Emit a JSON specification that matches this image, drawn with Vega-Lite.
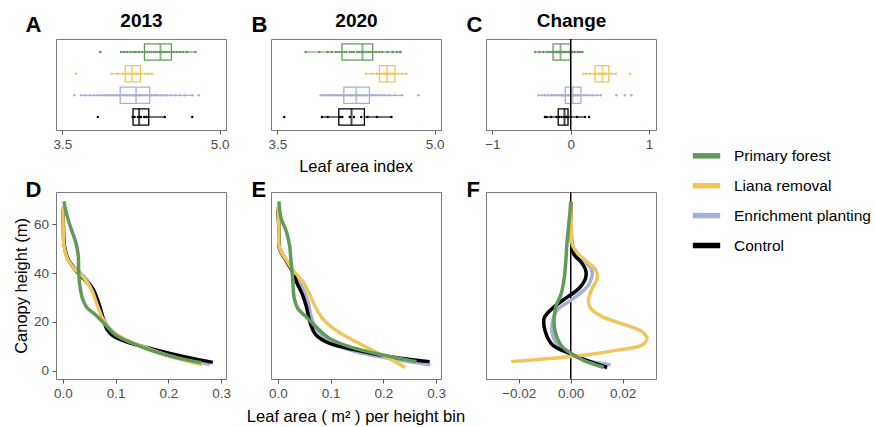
{
"$schema": "https://vega.github.io/schema/vega-lite/v6.json",
"padding": {"left": 12, "top": 10, "right": 3, "bottom": 3},
"config": {
 "font": "Liberation Sans",
 "view": {"stroke": "#7a7a7a", "strokeWidth": 1},
 "axis": {"grid": false, "domain": false, "labelFont": "Liberation Sans", "labelFontSize": 13.5, "labelColor": "#4d4d4d", "tickColor": "#555555", "tickSize": 4, "labelPadding": 3.5, "titleFont": "Liberation Sans", "titleFontSize": 16.5, "titleFontWeight": "normal", "titleColor": "black"},
 "legend": {"labelFont": "Liberation Sans", "symbolSize": 750, "symbolStrokeWidth": 5.5, "labelFontSize": 15.5, "labelColor": "black", "labelOffset": 11, "rowPadding": 1.9, "symbolOpacity": 1},
 "title": {"font": "Liberation Sans", "fontWeight": "normal", "fontSize": 16.5, "color": "black"}
},
"datasets": {
 "box": [
  {"p":"A","g":"Primary forest","lo":4.062,"q1":4.283,"med":4.436,"q3":4.54,"hi":4.77},
  {"p":"A","g":"Liana removal","lo":3.972,"q1":4.10,"med":4.164,"q3":4.244,"hi":4.355},
  {"p":"A","g":"Enrichment planting","lo":3.679,"q1":4.052,"med":4.203,"q3":4.333,"hi":4.738},
  {"p":"A","g":"Control","lo":4.174,"q1":4.174,"med":4.232,"q3":4.324,"hi":4.477},
  {"p":"B","g":"Primary forest","lo":3.769,"q1":4.116,"med":4.312,"q3":4.409,"hi":4.675},
  {"p":"B","g":"Liana removal","lo":4.345,"q1":4.473,"med":4.545,"q3":4.621,"hi":4.73},
  {"p":"B","g":"Enrichment planting","lo":3.914,"q1":4.134,"med":4.252,"q3":4.378,"hi":4.69},
  {"p":"B","g":"Control","lo":3.926,"q1":4.086,"med":4.207,"q3":4.33,"hi":4.588},
  {"p":"C","g":"Primary forest","lo":-0.456,"q1":-0.226,"med":-0.13,"q3":-0.005,"hi":0.15},
  {"p":"C","g":"Liana removal","lo":0.161,"q1":0.31,"med":0.404,"q3":0.485,"hi":0.574},
  {"p":"C","g":"Enrichment planting","lo":-0.414,"q1":-0.07,"med":0.021,"q3":0.13,"hi":0.383},
  {"p":"C","g":"Control","lo":-0.328,"q1":-0.16,"med":-0.08,"q3":-0.035,"hi":0.183}
 ],
 "pts": [
  {"p":"A","g":"Primary forest","v":3.86},{"p":"A","g":"Primary forest","v":3.862},{"p":"A","g":"Primary forest","v":4.06},{"p":"A","g":"Primary forest","v":4.09},{"p":"A","g":"Primary forest","v":4.12},{"p":"A","g":"Primary forest","v":4.15},{"p":"A","g":"Primary forest","v":4.18},{"p":"A","g":"Primary forest","v":4.2},{"p":"A","g":"Primary forest","v":4.23},{"p":"A","g":"Primary forest","v":4.26},{"p":"A","g":"Primary forest","v":4.29},{"p":"A","g":"Primary forest","v":4.31},{"p":"A","g":"Primary forest","v":4.33},{"p":"A","g":"Primary forest","v":4.35},{"p":"A","g":"Primary forest","v":4.37},{"p":"A","g":"Primary forest","v":4.39},{"p":"A","g":"Primary forest","v":4.41},{"p":"A","g":"Primary forest","v":4.43},{"p":"A","g":"Primary forest","v":4.44},{"p":"A","g":"Primary forest","v":4.46},{"p":"A","g":"Primary forest","v":4.48},{"p":"A","g":"Primary forest","v":4.5},{"p":"A","g":"Primary forest","v":4.52},{"p":"A","g":"Primary forest","v":4.54},{"p":"A","g":"Primary forest","v":4.56},{"p":"A","g":"Primary forest","v":4.59},{"p":"A","g":"Primary forest","v":4.62},{"p":"A","g":"Primary forest","v":4.65},{"p":"A","g":"Primary forest","v":4.69},{"p":"A","g":"Primary forest","v":4.77},
  {"p":"A","g":"Liana removal","v":3.63},{"p":"A","g":"Liana removal","v":3.97},{"p":"A","g":"Liana removal","v":4.03},{"p":"A","g":"Liana removal","v":4.08},{"p":"A","g":"Liana removal","v":4.11},{"p":"A","g":"Liana removal","v":4.13},{"p":"A","g":"Liana removal","v":4.15},{"p":"A","g":"Liana removal","v":4.16},{"p":"A","g":"Liana removal","v":4.17},{"p":"A","g":"Liana removal","v":4.19},{"p":"A","g":"Liana removal","v":4.21},{"p":"A","g":"Liana removal","v":4.23},{"p":"A","g":"Liana removal","v":4.25},{"p":"A","g":"Liana removal","v":4.29},{"p":"A","g":"Liana removal","v":4.32},{"p":"A","g":"Liana removal","v":4.355},
  {"p":"A","g":"Enrichment planting","v":3.615},{"p":"A","g":"Enrichment planting","v":3.68},{"p":"A","g":"Enrichment planting","v":3.72},{"p":"A","g":"Enrichment planting","v":3.76},{"p":"A","g":"Enrichment planting","v":3.8},{"p":"A","g":"Enrichment planting","v":3.84},{"p":"A","g":"Enrichment planting","v":3.87},{"p":"A","g":"Enrichment planting","v":3.9},{"p":"A","g":"Enrichment planting","v":3.93},{"p":"A","g":"Enrichment planting","v":3.95},{"p":"A","g":"Enrichment planting","v":3.97},{"p":"A","g":"Enrichment planting","v":3.99},{"p":"A","g":"Enrichment planting","v":4.01},{"p":"A","g":"Enrichment planting","v":4.03},{"p":"A","g":"Enrichment planting","v":4.05},{"p":"A","g":"Enrichment planting","v":4.07},{"p":"A","g":"Enrichment planting","v":4.09},{"p":"A","g":"Enrichment planting","v":4.11},{"p":"A","g":"Enrichment planting","v":4.12},{"p":"A","g":"Enrichment planting","v":4.14},{"p":"A","g":"Enrichment planting","v":4.15},{"p":"A","g":"Enrichment planting","v":4.17},{"p":"A","g":"Enrichment planting","v":4.18},{"p":"A","g":"Enrichment planting","v":4.19},{"p":"A","g":"Enrichment planting","v":4.2},{"p":"A","g":"Enrichment planting","v":4.21},{"p":"A","g":"Enrichment planting","v":4.23},{"p":"A","g":"Enrichment planting","v":4.24},{"p":"A","g":"Enrichment planting","v":4.26},{"p":"A","g":"Enrichment planting","v":4.28},{"p":"A","g":"Enrichment planting","v":4.3},{"p":"A","g":"Enrichment planting","v":4.32},{"p":"A","g":"Enrichment planting","v":4.33},{"p":"A","g":"Enrichment planting","v":4.35},{"p":"A","g":"Enrichment planting","v":4.37},{"p":"A","g":"Enrichment planting","v":4.39},{"p":"A","g":"Enrichment planting","v":4.41},{"p":"A","g":"Enrichment planting","v":4.44},{"p":"A","g":"Enrichment planting","v":4.47},{"p":"A","g":"Enrichment planting","v":4.5},{"p":"A","g":"Enrichment planting","v":4.54},{"p":"A","g":"Enrichment planting","v":4.58},{"p":"A","g":"Enrichment planting","v":4.62},{"p":"A","g":"Enrichment planting","v":4.67},{"p":"A","g":"Enrichment planting","v":4.74},{"p":"A","g":"Enrichment planting","v":4.8},
  {"p":"A","g":"Control","v":3.838},{"p":"A","g":"Control","v":4.17},{"p":"A","g":"Control","v":4.19},{"p":"A","g":"Control","v":4.22},{"p":"A","g":"Control","v":4.235},{"p":"A","g":"Control","v":4.25},{"p":"A","g":"Control","v":4.28},{"p":"A","g":"Control","v":4.3},{"p":"A","g":"Control","v":4.32},{"p":"A","g":"Control","v":4.477},{"p":"A","g":"Control","v":4.738},
  {"p":"B","g":"Primary forest","v":3.77},{"p":"B","g":"Primary forest","v":3.9},{"p":"B","g":"Primary forest","v":3.98},{"p":"B","g":"Primary forest","v":4.02},{"p":"B","g":"Primary forest","v":4.06},{"p":"B","g":"Primary forest","v":4.09},{"p":"B","g":"Primary forest","v":4.12},{"p":"B","g":"Primary forest","v":4.14},{"p":"B","g":"Primary forest","v":4.16},{"p":"B","g":"Primary forest","v":4.19},{"p":"B","g":"Primary forest","v":4.21},{"p":"B","g":"Primary forest","v":4.23},{"p":"B","g":"Primary forest","v":4.26},{"p":"B","g":"Primary forest","v":4.28},{"p":"B","g":"Primary forest","v":4.3},{"p":"B","g":"Primary forest","v":4.31},{"p":"B","g":"Primary forest","v":4.33},{"p":"B","g":"Primary forest","v":4.35},{"p":"B","g":"Primary forest","v":4.37},{"p":"B","g":"Primary forest","v":4.39},{"p":"B","g":"Primary forest","v":4.41},{"p":"B","g":"Primary forest","v":4.44},{"p":"B","g":"Primary forest","v":4.47},{"p":"B","g":"Primary forest","v":4.5},{"p":"B","g":"Primary forest","v":4.55},{"p":"B","g":"Primary forest","v":4.6},{"p":"B","g":"Primary forest","v":4.64},{"p":"B","g":"Primary forest","v":4.67},{"p":"B","g":"Primary forest","v":4.675},
  {"p":"B","g":"Liana removal","v":4.345},{"p":"B","g":"Liana removal","v":4.4},{"p":"B","g":"Liana removal","v":4.45},{"p":"B","g":"Liana removal","v":4.48},{"p":"B","g":"Liana removal","v":4.5},{"p":"B","g":"Liana removal","v":4.52},{"p":"B","g":"Liana removal","v":4.53},{"p":"B","g":"Liana removal","v":4.55},{"p":"B","g":"Liana removal","v":4.56},{"p":"B","g":"Liana removal","v":4.58},{"p":"B","g":"Liana removal","v":4.6},{"p":"B","g":"Liana removal","v":4.62},{"p":"B","g":"Liana removal","v":4.65},{"p":"B","g":"Liana removal","v":4.69},{"p":"B","g":"Liana removal","v":4.73},
  {"p":"B","g":"Enrichment planting","v":3.914},{"p":"B","g":"Enrichment planting","v":3.94},{"p":"B","g":"Enrichment planting","v":3.97},{"p":"B","g":"Enrichment planting","v":3.99},{"p":"B","g":"Enrichment planting","v":4.01},{"p":"B","g":"Enrichment planting","v":4.03},{"p":"B","g":"Enrichment planting","v":4.05},{"p":"B","g":"Enrichment planting","v":4.07},{"p":"B","g":"Enrichment planting","v":4.09},{"p":"B","g":"Enrichment planting","v":4.1},{"p":"B","g":"Enrichment planting","v":4.12},{"p":"B","g":"Enrichment planting","v":4.13},{"p":"B","g":"Enrichment planting","v":4.15},{"p":"B","g":"Enrichment planting","v":4.16},{"p":"B","g":"Enrichment planting","v":4.17},{"p":"B","g":"Enrichment planting","v":4.19},{"p":"B","g":"Enrichment planting","v":4.2},{"p":"B","g":"Enrichment planting","v":4.21},{"p":"B","g":"Enrichment planting","v":4.22},{"p":"B","g":"Enrichment planting","v":4.24},{"p":"B","g":"Enrichment planting","v":4.25},{"p":"B","g":"Enrichment planting","v":4.26},{"p":"B","g":"Enrichment planting","v":4.27},{"p":"B","g":"Enrichment planting","v":4.29},{"p":"B","g":"Enrichment planting","v":4.3},{"p":"B","g":"Enrichment planting","v":4.31},{"p":"B","g":"Enrichment planting","v":4.33},{"p":"B","g":"Enrichment planting","v":4.34},{"p":"B","g":"Enrichment planting","v":4.36},{"p":"B","g":"Enrichment planting","v":4.38},{"p":"B","g":"Enrichment planting","v":4.4},{"p":"B","g":"Enrichment planting","v":4.42},{"p":"B","g":"Enrichment planting","v":4.44},{"p":"B","g":"Enrichment planting","v":4.47},{"p":"B","g":"Enrichment planting","v":4.5},{"p":"B","g":"Enrichment planting","v":4.53},{"p":"B","g":"Enrichment planting","v":4.57},{"p":"B","g":"Enrichment planting","v":4.62},{"p":"B","g":"Enrichment planting","v":4.69},{"p":"B","g":"Enrichment planting","v":4.845},
  {"p":"B","g":"Control","v":3.566},{"p":"B","g":"Control","v":3.926},{"p":"B","g":"Control","v":3.98},{"p":"B","g":"Control","v":4.1},{"p":"B","g":"Control","v":4.12},{"p":"B","g":"Control","v":4.19},{"p":"B","g":"Control","v":4.23},{"p":"B","g":"Control","v":4.3},{"p":"B","g":"Control","v":4.36},{"p":"B","g":"Control","v":4.45},{"p":"B","g":"Control","v":4.588},
  {"p":"C","g":"Primary forest","v":-0.456},{"p":"C","g":"Primary forest","v":-0.4},{"p":"C","g":"Primary forest","v":-0.35},{"p":"C","g":"Primary forest","v":-0.3},{"p":"C","g":"Primary forest","v":-0.27},{"p":"C","g":"Primary forest","v":-0.24},{"p":"C","g":"Primary forest","v":-0.22},{"p":"C","g":"Primary forest","v":-0.2},{"p":"C","g":"Primary forest","v":-0.18},{"p":"C","g":"Primary forest","v":-0.16},{"p":"C","g":"Primary forest","v":-0.15},{"p":"C","g":"Primary forest","v":-0.14},{"p":"C","g":"Primary forest","v":-0.13},{"p":"C","g":"Primary forest","v":-0.11},{"p":"C","g":"Primary forest","v":-0.09},{"p":"C","g":"Primary forest","v":-0.07},{"p":"C","g":"Primary forest","v":-0.05},{"p":"C","g":"Primary forest","v":-0.03},{"p":"C","g":"Primary forest","v":-0.01},{"p":"C","g":"Primary forest","v":0.02},{"p":"C","g":"Primary forest","v":0.05},{"p":"C","g":"Primary forest","v":0.09},{"p":"C","g":"Primary forest","v":0.12},{"p":"C","g":"Primary forest","v":0.15},
  {"p":"C","g":"Liana removal","v":0.161},{"p":"C","g":"Liana removal","v":0.2},{"p":"C","g":"Liana removal","v":0.25},{"p":"C","g":"Liana removal","v":0.3},{"p":"C","g":"Liana removal","v":0.33},{"p":"C","g":"Liana removal","v":0.36},{"p":"C","g":"Liana removal","v":0.38},{"p":"C","g":"Liana removal","v":0.4},{"p":"C","g":"Liana removal","v":0.41},{"p":"C","g":"Liana removal","v":0.43},{"p":"C","g":"Liana removal","v":0.45},{"p":"C","g":"Liana removal","v":0.48},{"p":"C","g":"Liana removal","v":0.52},{"p":"C","g":"Liana removal","v":0.574},{"p":"C","g":"Liana removal","v":0.757},
  {"p":"C","g":"Enrichment planting","v":-0.414},{"p":"C","g":"Enrichment planting","v":-0.37},{"p":"C","g":"Enrichment planting","v":-0.33},{"p":"C","g":"Enrichment planting","v":-0.29},{"p":"C","g":"Enrichment planting","v":-0.25},{"p":"C","g":"Enrichment planting","v":-0.22},{"p":"C","g":"Enrichment planting","v":-0.19},{"p":"C","g":"Enrichment planting","v":-0.16},{"p":"C","g":"Enrichment planting","v":-0.14},{"p":"C","g":"Enrichment planting","v":-0.12},{"p":"C","g":"Enrichment planting","v":-0.1},{"p":"C","g":"Enrichment planting","v":-0.08},{"p":"C","g":"Enrichment planting","v":-0.06},{"p":"C","g":"Enrichment planting","v":-0.05},{"p":"C","g":"Enrichment planting","v":-0.03},{"p":"C","g":"Enrichment planting","v":-0.02},{"p":"C","g":"Enrichment planting","v":0.0},{"p":"C","g":"Enrichment planting","v":0.01},{"p":"C","g":"Enrichment planting","v":0.02},{"p":"C","g":"Enrichment planting","v":0.03},{"p":"C","g":"Enrichment planting","v":0.05},{"p":"C","g":"Enrichment planting","v":0.06},{"p":"C","g":"Enrichment planting","v":0.08},{"p":"C","g":"Enrichment planting","v":0.1},{"p":"C","g":"Enrichment planting","v":0.12},{"p":"C","g":"Enrichment planting","v":0.14},{"p":"C","g":"Enrichment planting","v":0.17},{"p":"C","g":"Enrichment planting","v":0.2},{"p":"C","g":"Enrichment planting","v":0.24},{"p":"C","g":"Enrichment planting","v":0.28},{"p":"C","g":"Enrichment planting","v":0.33},{"p":"C","g":"Enrichment planting","v":0.383},{"p":"C","g":"Enrichment planting","v":0.583},{"p":"C","g":"Enrichment planting","v":0.69},{"p":"C","g":"Enrichment planting","v":0.774},
  {"p":"C","g":"Control","v":-0.33},{"p":"C","g":"Control","v":-0.31},{"p":"C","g":"Control","v":-0.25},{"p":"C","g":"Control","v":-0.18},{"p":"C","g":"Control","v":-0.15},{"p":"C","g":"Control","v":-0.12},{"p":"C","g":"Control","v":-0.09},{"p":"C","g":"Control","v":-0.06},{"p":"C","g":"Control","v":-0.04},{"p":"C","g":"Control","v":0.0},{"p":"C","g":"Control","v":0.08},{"p":"C","g":"Control","v":0.183},{"p":"C","g":"Control","v":0.234}
 ],
 "prof": [
  {"p":"D","g":"Enrichment planting","x":0,"h":67},{"p":"D","g":"Enrichment planting","x":0.0005,"h":61},{"p":"D","g":"Enrichment planting","x":0.002,"h":52},{"p":"D","g":"Enrichment planting","x":0.009,"h":46},{"p":"D","g":"Enrichment planting","x":0.023,"h":42},{"p":"D","g":"Enrichment planting","x":0.04,"h":38.6},{"p":"D","g":"Enrichment planting","x":0.056,"h":34},{"p":"D","g":"Enrichment planting","x":0.067,"h":27.5},{"p":"D","g":"Enrichment planting","x":0.077,"h":21.5},{"p":"D","g":"Enrichment planting","x":0.088,"h":17.3},{"p":"D","g":"Enrichment planting","x":0.112,"h":13.3},{"p":"D","g":"Enrichment planting","x":0.15,"h":10},{"p":"D","g":"Enrichment planting","x":0.2,"h":6.5},{"p":"D","g":"Enrichment planting","x":0.24,"h":4.2},{"p":"D","g":"Enrichment planting","x":0.278,"h":2.6},
  {"p":"D","g":"Control","x":0,"h":66},{"p":"D","g":"Control","x":0.001,"h":60},{"p":"D","g":"Control","x":0.003,"h":51},{"p":"D","g":"Control","x":0.01,"h":45.5},{"p":"D","g":"Control","x":0.023,"h":41.5},{"p":"D","g":"Control","x":0.04,"h":37.5},{"p":"D","g":"Control","x":0.056,"h":33.8},{"p":"D","g":"Control","x":0.069,"h":27},{"p":"D","g":"Control","x":0.078,"h":20.2},{"p":"D","g":"Control","x":0.084,"h":16.8},{"p":"D","g":"Control","x":0.097,"h":14},{"p":"D","g":"Control","x":0.119,"h":12},{"p":"D","g":"Control","x":0.164,"h":9.3},{"p":"D","g":"Control","x":0.215,"h":6.5},{"p":"D","g":"Control","x":0.259,"h":4.5},{"p":"D","g":"Control","x":0.284,"h":3.5},
  {"p":"D","g":"Liana removal","x":0,"h":67.3},{"p":"D","g":"Liana removal","x":0.0005,"h":61},{"p":"D","g":"Liana removal","x":0.002,"h":51.6},{"p":"D","g":"Liana removal","x":0.008,"h":46.1},{"p":"D","g":"Liana removal","x":0.021,"h":42},{"p":"D","g":"Liana removal","x":0.037,"h":38.6},{"p":"D","g":"Liana removal","x":0.053,"h":33.8},{"p":"D","g":"Liana removal","x":0.065,"h":27},{"p":"D","g":"Liana removal","x":0.075,"h":21.6},{"p":"D","g":"Liana removal","x":0.088,"h":17.5},{"p":"D","g":"Liana removal","x":0.113,"h":13.4},{"p":"D","g":"Liana removal","x":0.151,"h":10},{"p":"D","g":"Liana removal","x":0.196,"h":6.5},{"p":"D","g":"Liana removal","x":0.234,"h":4.1},{"p":"D","g":"Liana removal","x":0.265,"h":2.5},
  {"p":"D","g":"Primary forest","x":0.002,"h":69.3},{"p":"D","g":"Primary forest","x":0.006,"h":65},{"p":"D","g":"Primary forest","x":0.015,"h":58.4},{"p":"D","g":"Primary forest","x":0.024,"h":52.9},{"p":"D","g":"Primary forest","x":0.029,"h":47.5},{"p":"D","g":"Primary forest","x":0.03,"h":40.6},{"p":"D","g":"Primary forest","x":0.032,"h":35.2},{"p":"D","g":"Primary forest","x":0.037,"h":29.7},{"p":"D","g":"Primary forest","x":0.045,"h":26},{"p":"D","g":"Primary forest","x":0.062,"h":22.9},{"p":"D","g":"Primary forest","x":0.081,"h":18.8},{"p":"D","g":"Primary forest","x":0.1,"h":14.7},{"p":"D","g":"Primary forest","x":0.132,"h":11.3},{"p":"D","g":"Primary forest","x":0.164,"h":8.6},{"p":"D","g":"Primary forest","x":0.196,"h":6.5},{"p":"D","g":"Primary forest","x":0.234,"h":4.5},{"p":"D","g":"Primary forest","x":0.262,"h":3.4},
  {"p":"E","g":"Enrichment planting","x":0,"h":67},{"p":"E","g":"Enrichment planting","x":0.002,"h":58.4},{"p":"E","g":"Enrichment planting","x":0.003,"h":50.2},{"p":"E","g":"Enrichment planting","x":0.016,"h":45.4},{"p":"E","g":"Enrichment planting","x":0.028,"h":40.7},{"p":"E","g":"Enrichment planting","x":0.047,"h":33.8},{"p":"E","g":"Enrichment planting","x":0.057,"h":28.4},{"p":"E","g":"Enrichment planting","x":0.0625,"h":22.9},{"p":"E","g":"Enrichment planting","x":0.072,"h":17.5},{"p":"E","g":"Enrichment planting","x":0.097,"h":12},{"p":"E","g":"Enrichment planting","x":0.147,"h":7.9},{"p":"E","g":"Enrichment planting","x":0.209,"h":5.2},{"p":"E","g":"Enrichment planting","x":0.289,"h":2.5},
  {"p":"E","g":"Control","x":0,"h":66},{"p":"E","g":"Control","x":0.002,"h":58},{"p":"E","g":"Control","x":0.003,"h":50},{"p":"E","g":"Control","x":0.016,"h":45},{"p":"E","g":"Control","x":0.028,"h":40.5},{"p":"E","g":"Control","x":0.036,"h":36},{"p":"E","g":"Control","x":0.046,"h":31.5},{"p":"E","g":"Control","x":0.053,"h":27},{"p":"E","g":"Control","x":0.0625,"h":18.8},{"p":"E","g":"Control","x":0.072,"h":14.7},{"p":"E","g":"Control","x":0.097,"h":11.3},{"p":"E","g":"Control","x":0.147,"h":8.6},{"p":"E","g":"Control","x":0.209,"h":5.9},{"p":"E","g":"Control","x":0.2875,"h":3.8},
  {"p":"E","g":"Liana removal","x":0,"h":67},{"p":"E","g":"Liana removal","x":0.002,"h":58.4},{"p":"E","g":"Liana removal","x":0.003,"h":50.2},{"p":"E","g":"Liana removal","x":0.016,"h":45.4},{"p":"E","g":"Liana removal","x":0.028,"h":41.3},{"p":"E","g":"Liana removal","x":0.047,"h":36.6},{"p":"E","g":"Liana removal","x":0.059,"h":31.8},{"p":"E","g":"Liana removal","x":0.069,"h":27},{"p":"E","g":"Liana removal","x":0.084,"h":21.6},{"p":"E","g":"Liana removal","x":0.109,"h":16.8},{"p":"E","g":"Liana removal","x":0.147,"h":12},{"p":"E","g":"Liana removal","x":0.184,"h":7.9},{"p":"E","g":"Liana removal","x":0.216,"h":4.5},{"p":"E","g":"Liana removal","x":0.241,"h":1.4},
  {"p":"E","g":"Primary forest","x":0.002,"h":69.3},{"p":"E","g":"Primary forest","x":0.006,"h":62.5},{"p":"E","g":"Primary forest","x":0.016,"h":57},{"p":"E","g":"Primary forest","x":0.022,"h":51.6},{"p":"E","g":"Primary forest","x":0.025,"h":44.7},{"p":"E","g":"Primary forest","x":0.028,"h":37.9},{"p":"E","g":"Primary forest","x":0.031,"h":29.7},{"p":"E","g":"Primary forest","x":0.0375,"h":25.6},{"p":"E","g":"Primary forest","x":0.053,"h":22.2},{"p":"E","g":"Primary forest","x":0.072,"h":18.1},{"p":"E","g":"Primary forest","x":0.097,"h":13.4},{"p":"E","g":"Primary forest","x":0.134,"h":10},{"p":"E","g":"Primary forest","x":0.184,"h":7.2},{"p":"E","g":"Primary forest","x":0.228,"h":5.2},{"p":"E","g":"Primary forest","x":0.2625,"h":3.8},
  {"p":"F","g":"Enrichment planting","x":0,"h":69},{"p":"F","g":"Enrichment planting","x":0.0002,"h":60},{"p":"F","g":"Enrichment planting","x":0.0006,"h":52},{"p":"F","g":"Enrichment planting","x":0.002,"h":48},{"p":"F","g":"Enrichment planting","x":0.005,"h":45},{"p":"F","g":"Enrichment planting","x":0.0078,"h":42},{"p":"F","g":"Enrichment planting","x":0.0083,"h":39.5},{"p":"F","g":"Enrichment planting","x":0.007,"h":35.5},{"p":"F","g":"Enrichment planting","x":0.0045,"h":32.5},{"p":"F","g":"Enrichment planting","x":-0.0006,"h":28.4},{"p":"F","g":"Enrichment planting","x":-0.0051,"h":25},{"p":"F","g":"Enrichment planting","x":-0.007,"h":20.2},{"p":"F","g":"Enrichment planting","x":-0.007,"h":14.7},{"p":"F","g":"Enrichment planting","x":-0.0045,"h":10},{"p":"F","g":"Enrichment planting","x":0.0006,"h":6.5},{"p":"F","g":"Enrichment planting","x":0.007,"h":4.1},{"p":"F","g":"Enrichment planting","x":0.0153,"h":2.5},
  {"p":"F","g":"Control","x":0,"h":69},{"p":"F","g":"Control","x":0.0001,"h":60},{"p":"F","g":"Control","x":0.0004,"h":51.6},{"p":"F","g":"Control","x":0.0013,"h":47.5},{"p":"F","g":"Control","x":0.0038,"h":44.7},{"p":"F","g":"Control","x":0.0057,"h":41.3},{"p":"F","g":"Control","x":0.0057,"h":37.9},{"p":"F","g":"Control","x":0.0032,"h":33.8},{"p":"F","g":"Control","x":-0.0019,"h":29.7},{"p":"F","g":"Control","x":-0.007,"h":25.6},{"p":"F","g":"Control","x":-0.0102,"h":21.6},{"p":"F","g":"Control","x":-0.0098,"h":16.1},{"p":"F","g":"Control","x":-0.007,"h":10.6},{"p":"F","g":"Control","x":-0.0006,"h":7.2},{"p":"F","g":"Control","x":0.0057,"h":4.5},{"p":"F","g":"Control","x":0.014,"h":1.4},
  {"p":"F","g":"Liana removal","x":0,"h":69},{"p":"F","g":"Liana removal","x":0.0002,"h":60},{"p":"F","g":"Liana removal","x":0.0006,"h":51.6},{"p":"F","g":"Liana removal","x":0.0032,"h":47.5},{"p":"F","g":"Liana removal","x":0.007,"h":44},{"p":"F","g":"Liana removal","x":0.0096,"h":41.3},{"p":"F","g":"Liana removal","x":0.0102,"h":37.9},{"p":"F","g":"Liana removal","x":0.0083,"h":33.8},{"p":"F","g":"Liana removal","x":0.0068,"h":29.1},{"p":"F","g":"Liana removal","x":0.0076,"h":25.6},{"p":"F","g":"Liana removal","x":0.0121,"h":22.2},{"p":"F","g":"Liana removal","x":0.021,"h":18.8},{"p":"F","g":"Liana removal","x":0.0274,"h":16.1},{"p":"F","g":"Liana removal","x":0.0293,"h":13.4},{"p":"F","g":"Liana removal","x":0.0274,"h":10.6},{"p":"F","g":"Liana removal","x":0.0185,"h":8.6},{"p":"F","g":"Liana removal","x":0.0057,"h":6.5},{"p":"F","g":"Liana removal","x":-0.007,"h":5.2},{"p":"F","g":"Liana removal","x":-0.0229,"h":3.8},
  {"p":"F","g":"Primary forest","x":0,"h":69.3},{"p":"F","g":"Primary forest","x":-0.0003,"h":65},{"p":"F","g":"Primary forest","x":-0.0009,"h":58.4},{"p":"F","g":"Primary forest","x":-0.0015,"h":51.6},{"p":"F","g":"Primary forest","x":-0.0019,"h":44.7},{"p":"F","g":"Primary forest","x":-0.0025,"h":37.9},{"p":"F","g":"Primary forest","x":-0.0038,"h":31.1},{"p":"F","g":"Primary forest","x":-0.0055,"h":27},{"p":"F","g":"Primary forest","x":-0.0064,"h":21.6},{"p":"F","g":"Primary forest","x":-0.006,"h":16.1},{"p":"F","g":"Primary forest","x":-0.0038,"h":10.6},{"p":"F","g":"Primary forest","x":0,"h":7.2},{"p":"F","g":"Primary forest","x":0.0045,"h":4.5},{"p":"F","g":"Primary forest","x":0.0096,"h":2.5},{"p":"F","g":"Primary forest","x":0.0127,"h":1.5}
 ]
},
"columns": 3,
"align": "each",
"bounds": "flush",
"spacing": {"row": 62, "column": 45},
"resolve": {"scale": {"x": "independent", "y": "independent", "color": "shared"}},
"concat": [
 {"width": 170, "height": 91,
  "layer": [
   {"data": {"name": "box"}, "transform": [{"filter": "datum.p == 'A'"}], "mark": {"type": "rule", "strokeWidth": 1.1},
    "encoding": {
     "x": {"field": "lo", "type": "quantitative", "scale": {"domain": [3.44, 5.06], "nice": false, "zero": false}, "axis": {"values": [3.5, 5], "format": ".1f", "title": "2013", "titleX": 85, "titleY": -103.7, "titleAlign": "center", "titleBaseline": "alphabetic", "titleFontSize": 19, "titleFontWeight": "bold"}},
     "x2": {"field": "q1"},
     "y": {"field": "g", "type": "nominal", "scale": {"domain": ["Primary forest", "Liana removal", "Enrichment planting", "Control"], "paddingInner": 0.25, "paddingOuter": 0.225}, "axis": {"labels": false, "ticks": false, "domain": false, "title": "A", "titleAngle": 0, "titleX": -31, "titleY": -7.5, "titleAlign": "left", "titleBaseline": "alphabetic", "titleFontSize": 22, "titleFontWeight": "bold"}},
     "color": {"field": "g", "type": "nominal", "title": null, "scale": {"domain": ["Primary forest", "Liana removal", "Enrichment planting", "Control"], "range": ["#629a5b", "#efc65c", "#a6afd7", "#000000"]}, "legend": {"orient": "none", "legendX": 634, "legendY": 100.3, "symbolType": "stroke"}}}},
   {"data": {"name": "box"}, "transform": [{"filter": "datum.p == 'A'"}], "mark": {"type": "rule", "strokeWidth": 1.1},
    "encoding": {"x": {"field": "q3", "type": "quantitative"}, "x2": {"field": "hi"}, "y": {"field": "g", "type": "nominal"}, "color": {"field": "g", "type": "nominal", "title": null, "legend": {"orient": "none", "legendX": 634, "legendY": 100.3, "symbolType": "stroke"}}}},
   {"data": {"name": "box"}, "transform": [{"filter": "datum.p == 'A'"}], "mark": {"type": "bar", "filled": false, "strokeWidth": 1.3},
    "encoding": {"x": {"field": "q1", "type": "quantitative"}, "x2": {"field": "q3"}, "y": {"field": "g", "type": "nominal"}, "color": {"field": "g", "type": "nominal", "title": null, "legend": {"orient": "none", "legendX": 634, "legendY": 100.3, "symbolType": "stroke"}}}},
   {"data": {"name": "box"}, "transform": [{"filter": "datum.p == 'A'"}], "mark": {"type": "tick", "thickness": 2, "size": 16},
    "encoding": {"x": {"field": "med", "type": "quantitative"}, "y": {"field": "g", "type": "nominal"}, "color": {"field": "g", "type": "nominal", "title": null, "legend": {"orient": "none", "legendX": 634, "legendY": 100.3, "symbolType": "stroke"}}}},
   {"data": {"name": "pts"}, "transform": [{"filter": "datum.p == 'A'"}], "mark": {"type": "circle", "size": 6, "opacity": 1},
    "encoding": {"x": {"field": "v", "type": "quantitative"}, "y": {"field": "g", "type": "nominal"}, "color": {"field": "g", "type": "nominal", "title": null, "legend": {"orient": "none", "legendX": 634, "legendY": 100.3, "symbolType": "stroke"}}}}
  ]},
 {"width": 170, "height": 91,
  "title": {"text": "Leaf area index", "orient": "bottom", "anchor": "middle", "offset": 8},
  "layer": [
   {"data": {"name": "box"}, "transform": [{"filter": "datum.p == 'B'"}], "mark": {"type": "rule", "strokeWidth": 1.1},
    "encoding": {
     "x": {"field": "lo", "type": "quantitative", "scale": {"domain": [3.44, 5.06], "nice": false, "zero": false}, "axis": {"values": [3.5, 5], "format": ".1f", "title": "2020", "titleX": 85, "titleY": -103.7, "titleAlign": "center", "titleBaseline": "alphabetic", "titleFontSize": 19, "titleFontWeight": "bold"}},
     "x2": {"field": "q1"},
     "y": {"field": "g", "type": "nominal", "scale": {"domain": ["Primary forest", "Liana removal", "Enrichment planting", "Control"], "paddingInner": 0.25, "paddingOuter": 0.225}, "axis": {"labels": false, "ticks": false, "domain": false, "title": "B", "titleAngle": 0, "titleX": -20, "titleY": -7.5, "titleAlign": "left", "titleBaseline": "alphabetic", "titleFontSize": 22, "titleFontWeight": "bold"}},
     "color": {"field": "g", "type": "nominal", "title": null, "legend": {"orient": "none", "legendX": 634, "legendY": 100.3, "symbolType": "stroke"}}}},
   {"data": {"name": "box"}, "transform": [{"filter": "datum.p == 'B'"}], "mark": {"type": "rule", "strokeWidth": 1.1},
    "encoding": {"x": {"field": "q3", "type": "quantitative"}, "x2": {"field": "hi"}, "y": {"field": "g", "type": "nominal"}, "color": {"field": "g", "type": "nominal", "title": null, "legend": {"orient": "none", "legendX": 634, "legendY": 100.3, "symbolType": "stroke"}}}},
   {"data": {"name": "box"}, "transform": [{"filter": "datum.p == 'B'"}], "mark": {"type": "bar", "filled": false, "strokeWidth": 1.3},
    "encoding": {"x": {"field": "q1", "type": "quantitative"}, "x2": {"field": "q3"}, "y": {"field": "g", "type": "nominal"}, "color": {"field": "g", "type": "nominal", "title": null, "legend": {"orient": "none", "legendX": 634, "legendY": 100.3, "symbolType": "stroke"}}}},
   {"data": {"name": "box"}, "transform": [{"filter": "datum.p == 'B'"}], "mark": {"type": "tick", "thickness": 2, "size": 16},
    "encoding": {"x": {"field": "med", "type": "quantitative"}, "y": {"field": "g", "type": "nominal"}, "color": {"field": "g", "type": "nominal", "title": null, "legend": {"orient": "none", "legendX": 634, "legendY": 100.3, "symbolType": "stroke"}}}},
   {"data": {"name": "pts"}, "transform": [{"filter": "datum.p == 'B'"}], "mark": {"type": "circle", "size": 6, "opacity": 1},
    "encoding": {"x": {"field": "v", "type": "quantitative"}, "y": {"field": "g", "type": "nominal"}, "color": {"field": "g", "type": "nominal", "title": null, "legend": {"orient": "none", "legendX": 634, "legendY": 100.3, "symbolType": "stroke"}}}}
  ]},
 {"width": 170, "height": 91,
  "layer": [
   {"data": {"name": "box"}, "transform": [{"filter": "datum.p == 'C'"}], "mark": {"type": "rule", "strokeWidth": 1.1},
    "encoding": {
     "x": {"field": "lo", "type": "quantitative", "scale": {"domain": [-1.082, 1.088], "nice": false, "zero": false}, "axis": {"values": [-1, 0, 1], "format": "d", "title": "Change", "titleX": 85, "titleY": -103.7, "titleAlign": "center", "titleBaseline": "alphabetic", "titleFontSize": 19, "titleFontWeight": "bold"}},
     "x2": {"field": "q1"},
     "y": {"field": "g", "type": "nominal", "scale": {"domain": ["Primary forest", "Liana removal", "Enrichment planting", "Control"], "paddingInner": 0.25, "paddingOuter": 0.225}, "axis": {"labels": false, "ticks": false, "domain": false, "title": "C", "titleAngle": 0, "titleX": -20, "titleY": -7.5, "titleAlign": "left", "titleBaseline": "alphabetic", "titleFontSize": 22, "titleFontWeight": "bold"}},
     "color": {"field": "g", "type": "nominal", "title": null, "legend": {"orient": "none", "legendX": 634, "legendY": 100.3, "symbolType": "stroke"}}}},
   {"data": {"name": "box"}, "transform": [{"filter": "datum.p == 'C'"}], "mark": {"type": "rule", "strokeWidth": 1.1},
    "encoding": {"x": {"field": "q3", "type": "quantitative"}, "x2": {"field": "hi"}, "y": {"field": "g", "type": "nominal"}, "color": {"field": "g", "type": "nominal", "title": null, "legend": {"orient": "none", "legendX": 634, "legendY": 100.3, "symbolType": "stroke"}}}},
   {"data": {"name": "box"}, "transform": [{"filter": "datum.p == 'C'"}], "mark": {"type": "bar", "filled": false, "strokeWidth": 1.3},
    "encoding": {"x": {"field": "q1", "type": "quantitative"}, "x2": {"field": "q3"}, "y": {"field": "g", "type": "nominal"}, "color": {"field": "g", "type": "nominal", "title": null, "legend": {"orient": "none", "legendX": 634, "legendY": 100.3, "symbolType": "stroke"}}}},
   {"data": {"name": "box"}, "transform": [{"filter": "datum.p == 'C'"}], "mark": {"type": "tick", "thickness": 2, "size": 16},
    "encoding": {"x": {"field": "med", "type": "quantitative"}, "y": {"field": "g", "type": "nominal"}, "color": {"field": "g", "type": "nominal", "title": null, "legend": {"orient": "none", "legendX": 634, "legendY": 100.3, "symbolType": "stroke"}}}},
   {"data": {"name": "pts"}, "transform": [{"filter": "datum.p == 'C'"}], "mark": {"type": "circle", "size": 6, "opacity": 1},
    "encoding": {"x": {"field": "v", "type": "quantitative"}, "y": {"field": "g", "type": "nominal"}, "color": {"field": "g", "type": "nominal", "title": null, "legend": {"orient": "none", "legendX": 634, "legendY": 100.3, "symbolType": "stroke"}}}},
   {"data": {"values": [{"z": 0}]}, "mark": {"type": "rule", "color": "black", "strokeWidth": 1.5},
    "encoding": {"x": {"field": "z", "type": "quantitative"}}}
  ]},
 {"width": 170, "height": 187,
  "layer": [
   {"data": {"name": "prof"}, "transform": [{"filter": "datum.p == 'D'"}], "mark": {"type": "line", "strokeWidth": 3.5, "interpolate": "catmull-rom"},
    "encoding": {
     "x": {"field": "x", "type": "quantitative", "scale": {"domain": [-0.013, 0.309], "nice": false, "zero": false}, "axis": {"values": [0, 0.1, 0.2, 0.3], "format": ".1f", "title": "D", "titleX": -31, "titleY": -182.7, "titleAlign": "left", "titleBaseline": "alphabetic", "titleFontSize": 22, "titleFontWeight": "bold"}},
     "y": {"field": "h", "type": "quantitative", "scale": {"domain": [-3.3, 73.1], "nice": false, "zero": false}, "axis": {"values": [0, 20, 40, 60], "title": "Canopy height (m)", "titlePadding": 4}},
     "color": {"field": "g", "type": "nominal", "title": null, "legend": {"orient": "none", "legendX": 634, "legendY": 100.3, "symbolType": "stroke"}},
     "order": {"field": "h", "type": "quantitative"}}}
  ]},
 {"width": 170, "height": 187,
  "title": {"text": "Leaf area ( m² ) per height bin", "orient": "bottom", "anchor": "middle", "offset": 9},
  "layer": [
   {"data": {"name": "prof"}, "transform": [{"filter": "datum.p == 'E'"}], "mark": {"type": "line", "strokeWidth": 3.5, "interpolate": "catmull-rom"},
    "encoding": {
     "x": {"field": "x", "type": "quantitative", "scale": {"domain": [-0.013, 0.309], "nice": false, "zero": false}, "axis": {"values": [0, 0.1, 0.2, 0.3], "format": ".1f", "title": "E", "titleX": -20, "titleY": -182.7, "titleAlign": "left", "titleBaseline": "alphabetic", "titleFontSize": 22, "titleFontWeight": "bold"}},
     "y": {"field": "h", "type": "quantitative", "scale": {"domain": [-3.3, 73.1], "nice": false, "zero": false}, "axis": null},
     "color": {"field": "g", "type": "nominal", "title": null, "legend": {"orient": "none", "legendX": 634, "legendY": 100.3, "symbolType": "stroke"}},
     "order": {"field": "h", "type": "quantitative"}}}
  ]},
 {"width": 170, "height": 187,
  "layer": [
   {"data": {"values": [{"z": 0}]}, "mark": {"type": "rule", "color": "black", "strokeWidth": 1.5},
    "encoding": {"x": {"field": "z", "type": "quantitative", "scale": {"domain": [-0.0326, 0.0328], "nice": false, "zero": false}, "axis": {"values": [-0.02, 0, 0.02], "format": ".2f", "title": "F", "titleX": -20, "titleY": -182.7, "titleAlign": "left", "titleBaseline": "alphabetic", "titleFontSize": 22, "titleFontWeight": "bold"}}}},
   {"data": {"name": "prof"}, "transform": [{"filter": "datum.p == 'F'"}], "mark": {"type": "line", "strokeWidth": 3.5, "interpolate": "catmull-rom"},
    "encoding": {
     "x": {"field": "x", "type": "quantitative"},
     "y": {"field": "h", "type": "quantitative", "scale": {"domain": [-3.3, 73.1], "nice": false, "zero": false}, "axis": null},
     "color": {"field": "g", "type": "nominal", "title": null, "legend": {"orient": "none", "legendX": 634, "legendY": 100.3, "symbolType": "stroke"}},
     "order": {"field": "h", "type": "quantitative"}}}
  ]}
]
}
